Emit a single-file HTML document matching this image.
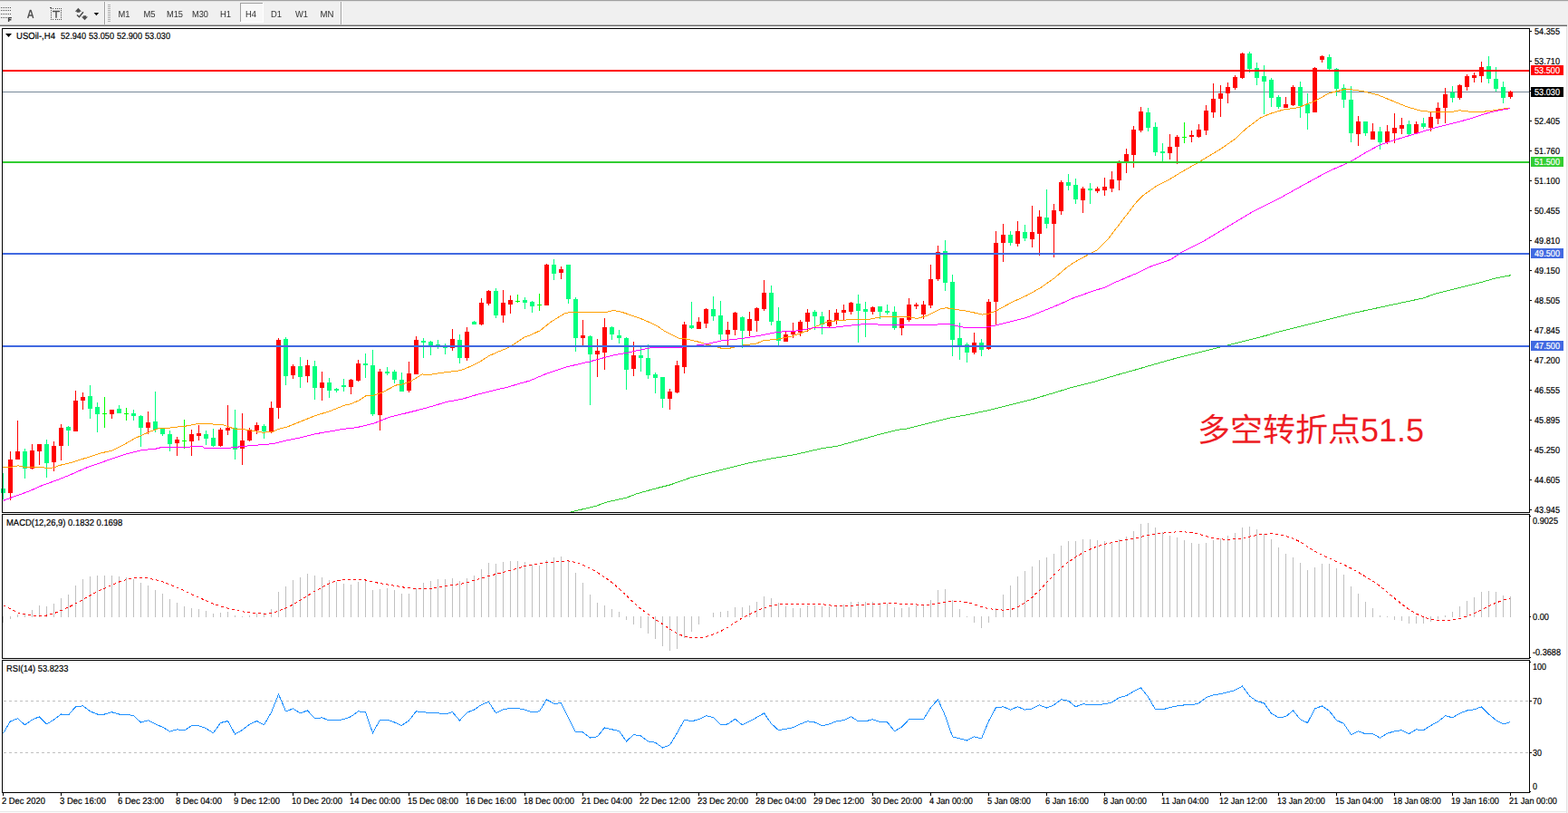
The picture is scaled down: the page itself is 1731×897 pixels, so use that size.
<!DOCTYPE html>
<html><head><meta charset="utf-8"><title>USOil H4</title>
<style>html,body{margin:0;padding:0;background:#fff}body{width:1731px;height:897px;overflow:hidden;position:relative;font-family:"Liberation Sans",sans-serif}</style></head>
<body>
<svg width="1731" height="897" viewBox="0 0 1731 897" font-family="Liberation Sans, sans-serif" style="position:absolute;left:0;top:0;text-rendering:geometricPrecision">
<rect x="0" y="0" width="1731" height="897" fill="#ffffff"/>
<g id="toolbar" shape-rendering="crispEdges">
<rect x="0" y="0" width="1731" height="29" fill="#f0f0f0"/>
<rect x="0" y="0" width="1731" height="1" fill="#a0a0a0"/>
<rect x="0" y="1" width="1731" height="1" fill="#e3e3e3"/>
<rect x="0" y="27" width="1730" height="1" fill="#b4b4b4"/>
<rect x="0" y="28" width="1730" height="1" fill="#696969"/>
<rect x="0" y="29" width="1731" height="2" fill="#ffffff"/>
</g>
<g id="frames" shape-rendering="crispEdges" fill="none" stroke="#000" stroke-width="1">
<path d="M2.5 31.5H1688.5V565.5H2.5Z"/>
<path d="M2.5 567.5H1688.5V726.5H2.5Z"/>
<path d="M2.5 728.5H1688.5V874.5H2.5Z"/>
</g>
<g shape-rendering="crispEdges">
<rect x="1729" y="29" width="1" height="868" fill="#e3e3e3"/>
<rect x="1730" y="29" width="1" height="868" fill="#f4f4f4"/>
<rect x="0" y="895" width="1729" height="1" fill="#e8e8e8"/>
<rect x="0" y="896" width="1729" height="1" fill="#fcfcfc"/>
</g>
<rect x="3" y="101" width="1685" height="1" fill="#778899" shape-rendering="crispEdges"/>
<g id="candles" shape-rendering="crispEdges">
<rect x="3" y="522" width="1" height="29" fill="#00ff7f"/>
<rect x="1" y="539" width="5" height="5" fill="#00ff7f"/>
<rect x="11" y="498" width="1" height="54" fill="#ff0000"/>
<rect x="9" y="507" width="5" height="37" fill="#ff0000"/>
<rect x="19" y="464" width="1" height="43" fill="#ff0000"/>
<rect x="17" y="498" width="5" height="9" fill="#ff0000"/>
<rect x="27" y="495" width="1" height="33" fill="#00ff7f"/>
<rect x="25" y="498" width="5" height="19" fill="#00ff7f"/>
<rect x="35" y="490" width="1" height="28" fill="#ff0000"/>
<rect x="33" y="497" width="5" height="20" fill="#ff0000"/>
<rect x="43" y="490" width="1" height="23" fill="#ff0000"/>
<rect x="41" y="490" width="5" height="8" fill="#ff0000"/>
<rect x="51" y="485" width="1" height="42" fill="#00ff7f"/>
<rect x="49" y="490" width="5" height="21" fill="#00ff7f"/>
<rect x="59" y="487" width="1" height="33" fill="#ff0000"/>
<rect x="57" y="492" width="5" height="18" fill="#ff0000"/>
<rect x="67" y="468" width="1" height="40" fill="#ff0000"/>
<rect x="65" y="472" width="5" height="20" fill="#ff0000"/>
<rect x="75" y="470" width="1" height="22" fill="#00ff7f"/>
<rect x="73" y="471" width="5" height="4" fill="#00ff7f"/>
<rect x="83" y="431" width="1" height="45" fill="#ff0000"/>
<rect x="81" y="442" width="5" height="34" fill="#ff0000"/>
<rect x="91" y="433" width="1" height="19" fill="#ff0000"/>
<rect x="89" y="438" width="5" height="4" fill="#ff0000"/>
<rect x="99" y="425" width="1" height="37" fill="#00ff7f"/>
<rect x="97" y="437" width="5" height="14" fill="#00ff7f"/>
<rect x="107" y="444" width="1" height="33" fill="#00ff7f"/>
<rect x="105" y="449" width="5" height="8" fill="#00ff7f"/>
<rect x="115" y="438" width="1" height="34" fill="#00ff00"/>
<rect x="113" y="456" width="5" height="1" fill="#00ff00"/>
<rect x="123" y="452" width="1" height="10" fill="#ff0000"/>
<rect x="121" y="452" width="5" height="5" fill="#ff0000"/>
<rect x="131" y="447" width="1" height="9" fill="#00ff7f"/>
<rect x="129" y="451" width="5" height="5" fill="#00ff7f"/>
<rect x="139" y="450" width="1" height="14" fill="#00ff00"/>
<rect x="137" y="456" width="5" height="1" fill="#00ff00"/>
<rect x="147" y="452" width="1" height="12" fill="#00ff7f"/>
<rect x="145" y="456" width="5" height="3" fill="#00ff7f"/>
<rect x="155" y="458" width="1" height="35" fill="#00ff7f"/>
<rect x="153" y="459" width="5" height="13" fill="#00ff7f"/>
<rect x="163" y="454" width="1" height="25" fill="#ff0000"/>
<rect x="161" y="466" width="5" height="6" fill="#ff0000"/>
<rect x="171" y="432" width="1" height="45" fill="#00ff7f"/>
<rect x="169" y="465" width="5" height="9" fill="#00ff7f"/>
<rect x="179" y="473" width="1" height="8" fill="#00ff7f"/>
<rect x="177" y="473" width="5" height="6" fill="#00ff7f"/>
<rect x="187" y="475" width="1" height="23" fill="#00ff7f"/>
<rect x="185" y="479" width="5" height="11" fill="#00ff7f"/>
<rect x="195" y="482" width="1" height="21" fill="#ff0000"/>
<rect x="193" y="485" width="5" height="4" fill="#ff0000"/>
<rect x="203" y="463" width="1" height="32" fill="#00ff00"/>
<rect x="201" y="486" width="5" height="1" fill="#00ff00"/>
<rect x="211" y="474" width="1" height="29" fill="#ff0000"/>
<rect x="209" y="479" width="5" height="8" fill="#ff0000"/>
<rect x="219" y="469" width="1" height="17" fill="#ff0000"/>
<rect x="217" y="478" width="5" height="3" fill="#ff0000"/>
<rect x="227" y="475" width="1" height="16" fill="#00ff7f"/>
<rect x="225" y="479" width="5" height="5" fill="#00ff7f"/>
<rect x="235" y="473" width="1" height="20" fill="#00ff7f"/>
<rect x="233" y="483" width="5" height="9" fill="#00ff7f"/>
<rect x="243" y="472" width="1" height="21" fill="#ff0000"/>
<rect x="241" y="474" width="5" height="18" fill="#ff0000"/>
<rect x="251" y="447" width="1" height="33" fill="#ff0000"/>
<rect x="249" y="472" width="5" height="3" fill="#ff0000"/>
<rect x="259" y="452" width="1" height="55" fill="#00ff7f"/>
<rect x="257" y="472" width="5" height="24" fill="#00ff7f"/>
<rect x="267" y="456" width="1" height="57" fill="#ff0000"/>
<rect x="265" y="486" width="5" height="9" fill="#ff0000"/>
<rect x="275" y="472" width="1" height="15" fill="#ff0000"/>
<rect x="273" y="474" width="5" height="12" fill="#ff0000"/>
<rect x="283" y="466" width="1" height="13" fill="#ff0000"/>
<rect x="281" y="469" width="5" height="6" fill="#ff0000"/>
<rect x="291" y="468" width="1" height="16" fill="#00ff7f"/>
<rect x="289" y="470" width="5" height="6" fill="#00ff7f"/>
<rect x="299" y="443" width="1" height="35" fill="#ff0000"/>
<rect x="297" y="450" width="5" height="26" fill="#ff0000"/>
<rect x="307" y="373" width="1" height="89" fill="#ff0000"/>
<rect x="305" y="375" width="5" height="75" fill="#ff0000"/>
<rect x="315" y="372" width="1" height="53" fill="#00ff7f"/>
<rect x="313" y="374" width="5" height="41" fill="#00ff7f"/>
<rect x="323" y="402" width="1" height="16" fill="#ff0000"/>
<rect x="321" y="404" width="5" height="10" fill="#ff0000"/>
<rect x="331" y="394" width="1" height="34" fill="#00ff7f"/>
<rect x="329" y="404" width="5" height="12" fill="#00ff7f"/>
<rect x="339" y="397" width="1" height="25" fill="#ff0000"/>
<rect x="337" y="403" width="5" height="12" fill="#ff0000"/>
<rect x="347" y="398" width="1" height="43" fill="#00ff7f"/>
<rect x="345" y="404" width="5" height="24" fill="#00ff7f"/>
<rect x="355" y="410" width="1" height="32" fill="#ff0000"/>
<rect x="353" y="422" width="5" height="6" fill="#ff0000"/>
<rect x="363" y="417" width="1" height="22" fill="#00ff7f"/>
<rect x="361" y="422" width="5" height="9" fill="#00ff7f"/>
<rect x="371" y="428" width="1" height="5" fill="#00ff7f"/>
<rect x="369" y="429" width="5" height="2" fill="#00ff7f"/>
<rect x="379" y="418" width="1" height="14" fill="#00ff7f"/>
<rect x="377" y="425" width="5" height="2" fill="#00ff7f"/>
<rect x="387" y="418" width="1" height="17" fill="#ff0000"/>
<rect x="385" y="419" width="5" height="8" fill="#ff0000"/>
<rect x="395" y="397" width="1" height="24" fill="#ff0000"/>
<rect x="393" y="401" width="5" height="19" fill="#ff0000"/>
<rect x="403" y="390" width="1" height="27" fill="#00ff7f"/>
<rect x="401" y="401" width="5" height="2" fill="#00ff7f"/>
<rect x="411" y="386" width="1" height="73" fill="#00ff7f"/>
<rect x="409" y="403" width="5" height="54" fill="#00ff7f"/>
<rect x="419" y="407" width="1" height="68" fill="#ff0000"/>
<rect x="417" y="410" width="5" height="48" fill="#ff0000"/>
<rect x="427" y="405" width="1" height="9" fill="#00ff7f"/>
<rect x="425" y="410" width="5" height="2" fill="#00ff7f"/>
<rect x="435" y="408" width="1" height="15" fill="#00ff7f"/>
<rect x="433" y="410" width="5" height="9" fill="#00ff7f"/>
<rect x="443" y="411" width="1" height="21" fill="#00ff7f"/>
<rect x="441" y="419" width="5" height="13" fill="#00ff7f"/>
<rect x="451" y="399" width="1" height="34" fill="#ff0000"/>
<rect x="449" y="412" width="5" height="19" fill="#ff0000"/>
<rect x="459" y="371" width="1" height="42" fill="#ff0000"/>
<rect x="457" y="375" width="5" height="38" fill="#ff0000"/>
<rect x="467" y="373" width="1" height="22" fill="#00ff7f"/>
<rect x="465" y="376" width="5" height="2" fill="#00ff7f"/>
<rect x="475" y="376" width="1" height="16" fill="#00ff7f"/>
<rect x="473" y="377" width="5" height="4" fill="#00ff7f"/>
<rect x="483" y="375" width="1" height="10" fill="#00ff7f"/>
<rect x="481" y="380" width="5" height="1" fill="#00ff7f"/>
<rect x="491" y="379" width="1" height="12" fill="#00ff7f"/>
<rect x="489" y="383" width="5" height="1" fill="#00ff7f"/>
<rect x="499" y="363" width="1" height="24" fill="#ff0000"/>
<rect x="497" y="374" width="5" height="10" fill="#ff0000"/>
<rect x="507" y="369" width="1" height="32" fill="#00ff7f"/>
<rect x="505" y="375" width="5" height="20" fill="#00ff7f"/>
<rect x="515" y="361" width="1" height="37" fill="#ff0000"/>
<rect x="513" y="366" width="5" height="29" fill="#ff0000"/>
<rect x="523" y="354" width="1" height="4" fill="#00ff7f"/>
<rect x="521" y="355" width="5" height="3" fill="#00ff7f"/>
<rect x="531" y="329" width="1" height="30" fill="#ff0000"/>
<rect x="529" y="334" width="5" height="24" fill="#ff0000"/>
<rect x="539" y="320" width="1" height="17" fill="#ff0000"/>
<rect x="537" y="321" width="5" height="14" fill="#ff0000"/>
<rect x="547" y="318" width="1" height="33" fill="#00ff7f"/>
<rect x="545" y="321" width="5" height="27" fill="#00ff7f"/>
<rect x="555" y="320" width="1" height="36" fill="#ff0000"/>
<rect x="553" y="334" width="5" height="14" fill="#ff0000"/>
<rect x="563" y="326" width="1" height="20" fill="#ff0000"/>
<rect x="561" y="331" width="5" height="5" fill="#ff0000"/>
<rect x="571" y="325" width="1" height="9" fill="#00ff00"/>
<rect x="569" y="332" width="5" height="1" fill="#00ff00"/>
<rect x="579" y="328" width="1" height="13" fill="#00ff7f"/>
<rect x="577" y="331" width="5" height="3" fill="#00ff7f"/>
<rect x="587" y="332" width="1" height="13" fill="#00ff7f"/>
<rect x="585" y="333" width="5" height="5" fill="#00ff7f"/>
<rect x="595" y="324" width="1" height="19" fill="#00ff00"/>
<rect x="593" y="336" width="5" height="1" fill="#00ff00"/>
<rect x="603" y="291" width="1" height="46" fill="#ff0000"/>
<rect x="601" y="292" width="5" height="45" fill="#ff0000"/>
<rect x="611" y="286" width="1" height="23" fill="#00ff7f"/>
<rect x="609" y="292" width="5" height="10" fill="#00ff7f"/>
<rect x="619" y="294" width="1" height="14" fill="#ff0000"/>
<rect x="617" y="297" width="5" height="4" fill="#ff0000"/>
<rect x="627" y="292" width="1" height="43" fill="#00ff7f"/>
<rect x="625" y="292" width="5" height="38" fill="#00ff7f"/>
<rect x="635" y="328" width="1" height="60" fill="#00ff7f"/>
<rect x="633" y="330" width="5" height="43" fill="#00ff7f"/>
<rect x="643" y="353" width="1" height="28" fill="#ff0000"/>
<rect x="641" y="370" width="5" height="3" fill="#ff0000"/>
<rect x="651" y="370" width="1" height="77" fill="#00ff7f"/>
<rect x="649" y="371" width="5" height="20" fill="#00ff7f"/>
<rect x="659" y="374" width="1" height="42" fill="#ff0000"/>
<rect x="657" y="387" width="5" height="4" fill="#ff0000"/>
<rect x="667" y="351" width="1" height="57" fill="#ff0000"/>
<rect x="665" y="361" width="5" height="28" fill="#ff0000"/>
<rect x="675" y="360" width="1" height="15" fill="#00ff7f"/>
<rect x="673" y="361" width="5" height="8" fill="#00ff7f"/>
<rect x="683" y="364" width="1" height="15" fill="#00ff7f"/>
<rect x="681" y="370" width="5" height="3" fill="#00ff7f"/>
<rect x="691" y="372" width="1" height="58" fill="#00ff7f"/>
<rect x="689" y="373" width="5" height="35" fill="#00ff7f"/>
<rect x="699" y="377" width="1" height="38" fill="#ff0000"/>
<rect x="697" y="392" width="5" height="15" fill="#ff0000"/>
<rect x="707" y="383" width="1" height="27" fill="#00ff7f"/>
<rect x="705" y="392" width="5" height="3" fill="#00ff7f"/>
<rect x="715" y="380" width="1" height="38" fill="#00ff7f"/>
<rect x="713" y="395" width="5" height="19" fill="#00ff7f"/>
<rect x="723" y="411" width="1" height="23" fill="#00ff7f"/>
<rect x="721" y="413" width="5" height="4" fill="#00ff7f"/>
<rect x="731" y="416" width="1" height="34" fill="#00ff7f"/>
<rect x="729" y="416" width="5" height="24" fill="#00ff7f"/>
<rect x="739" y="429" width="1" height="23" fill="#ff0000"/>
<rect x="737" y="432" width="5" height="8" fill="#ff0000"/>
<rect x="747" y="398" width="1" height="36" fill="#ff0000"/>
<rect x="745" y="403" width="5" height="30" fill="#ff0000"/>
<rect x="755" y="355" width="1" height="57" fill="#ff0000"/>
<rect x="753" y="358" width="5" height="47" fill="#ff0000"/>
<rect x="763" y="333" width="1" height="30" fill="#00ff7f"/>
<rect x="761" y="359" width="5" height="3" fill="#00ff7f"/>
<rect x="771" y="350" width="1" height="13" fill="#ff0000"/>
<rect x="769" y="355" width="5" height="8" fill="#ff0000"/>
<rect x="779" y="340" width="1" height="22" fill="#ff0000"/>
<rect x="777" y="341" width="5" height="16" fill="#ff0000"/>
<rect x="787" y="327" width="1" height="27" fill="#00ff7f"/>
<rect x="785" y="341" width="5" height="8" fill="#00ff7f"/>
<rect x="795" y="332" width="1" height="43" fill="#00ff7f"/>
<rect x="793" y="348" width="5" height="21" fill="#00ff7f"/>
<rect x="803" y="355" width="1" height="26" fill="#ff0000"/>
<rect x="801" y="364" width="5" height="5" fill="#ff0000"/>
<rect x="811" y="344" width="1" height="26" fill="#ff0000"/>
<rect x="809" y="345" width="5" height="19" fill="#ff0000"/>
<rect x="819" y="349" width="1" height="35" fill="#00ff7f"/>
<rect x="817" y="350" width="5" height="15" fill="#00ff7f"/>
<rect x="827" y="344" width="1" height="27" fill="#ff0000"/>
<rect x="825" y="352" width="5" height="13" fill="#ff0000"/>
<rect x="835" y="339" width="1" height="27" fill="#ff0000"/>
<rect x="833" y="340" width="5" height="14" fill="#ff0000"/>
<rect x="843" y="309" width="1" height="34" fill="#ff0000"/>
<rect x="841" y="323" width="5" height="18" fill="#ff0000"/>
<rect x="851" y="315" width="1" height="44" fill="#00ff7f"/>
<rect x="849" y="323" width="5" height="32" fill="#00ff7f"/>
<rect x="859" y="339" width="1" height="42" fill="#00ff7f"/>
<rect x="857" y="354" width="5" height="22" fill="#00ff7f"/>
<rect x="867" y="366" width="1" height="11" fill="#ff0000"/>
<rect x="865" y="369" width="5" height="8" fill="#ff0000"/>
<rect x="875" y="356" width="1" height="17" fill="#ff0000"/>
<rect x="873" y="366" width="5" height="3" fill="#ff0000"/>
<rect x="883" y="353" width="1" height="18" fill="#ff0000"/>
<rect x="881" y="355" width="5" height="12" fill="#ff0000"/>
<rect x="891" y="341" width="1" height="25" fill="#ff0000"/>
<rect x="889" y="345" width="5" height="10" fill="#ff0000"/>
<rect x="899" y="342" width="1" height="22" fill="#00ff7f"/>
<rect x="897" y="344" width="5" height="5" fill="#00ff7f"/>
<rect x="907" y="344" width="1" height="25" fill="#00ff7f"/>
<rect x="905" y="349" width="5" height="9" fill="#00ff7f"/>
<rect x="915" y="342" width="1" height="19" fill="#ff0000"/>
<rect x="913" y="353" width="5" height="7" fill="#ff0000"/>
<rect x="923" y="341" width="1" height="17" fill="#ff0000"/>
<rect x="921" y="345" width="5" height="9" fill="#ff0000"/>
<rect x="931" y="336" width="1" height="17" fill="#ff0000"/>
<rect x="929" y="342" width="5" height="3" fill="#ff0000"/>
<rect x="939" y="333" width="1" height="14" fill="#ff0000"/>
<rect x="937" y="334" width="5" height="10" fill="#ff0000"/>
<rect x="947" y="325" width="1" height="53" fill="#00ff7f"/>
<rect x="945" y="335" width="5" height="8" fill="#00ff7f"/>
<rect x="955" y="333" width="1" height="39" fill="#00ff7f"/>
<rect x="953" y="341" width="5" height="3" fill="#00ff7f"/>
<rect x="963" y="338" width="1" height="9" fill="#ff0000"/>
<rect x="961" y="339" width="5" height="5" fill="#ff0000"/>
<rect x="971" y="338" width="1" height="14" fill="#00ff7f"/>
<rect x="969" y="338" width="5" height="6" fill="#00ff7f"/>
<rect x="979" y="336" width="1" height="11" fill="#00ff7f"/>
<rect x="977" y="343" width="5" height="2" fill="#00ff7f"/>
<rect x="987" y="338" width="1" height="26" fill="#00ff7f"/>
<rect x="985" y="344" width="5" height="18" fill="#00ff7f"/>
<rect x="995" y="351" width="1" height="19" fill="#ff0000"/>
<rect x="993" y="351" width="5" height="11" fill="#ff0000"/>
<rect x="1003" y="329" width="1" height="26" fill="#ff0000"/>
<rect x="1001" y="336" width="5" height="17" fill="#ff0000"/>
<rect x="1011" y="334" width="1" height="7" fill="#ff0000"/>
<rect x="1009" y="336" width="5" height="2" fill="#ff0000"/>
<rect x="1019" y="332" width="1" height="20" fill="#ff0000"/>
<rect x="1017" y="336" width="5" height="11" fill="#ff0000"/>
<rect x="1027" y="292" width="1" height="48" fill="#ff0000"/>
<rect x="1025" y="308" width="5" height="29" fill="#ff0000"/>
<rect x="1035" y="271" width="1" height="39" fill="#ff0000"/>
<rect x="1033" y="278" width="5" height="30" fill="#ff0000"/>
<rect x="1043" y="265" width="1" height="56" fill="#00ff7f"/>
<rect x="1041" y="277" width="5" height="35" fill="#00ff7f"/>
<rect x="1051" y="303" width="1" height="90" fill="#00ff7f"/>
<rect x="1049" y="311" width="5" height="64" fill="#00ff7f"/>
<rect x="1059" y="356" width="1" height="41" fill="#00ff7f"/>
<rect x="1057" y="373" width="5" height="9" fill="#00ff7f"/>
<rect x="1067" y="378" width="1" height="22" fill="#00ff7f"/>
<rect x="1065" y="380" width="5" height="9" fill="#00ff7f"/>
<rect x="1075" y="367" width="1" height="24" fill="#ff0000"/>
<rect x="1073" y="378" width="5" height="11" fill="#ff0000"/>
<rect x="1083" y="374" width="1" height="19" fill="#00ff7f"/>
<rect x="1081" y="378" width="5" height="8" fill="#00ff7f"/>
<rect x="1091" y="330" width="1" height="56" fill="#ff0000"/>
<rect x="1089" y="333" width="5" height="52" fill="#ff0000"/>
<rect x="1099" y="255" width="1" height="103" fill="#ff0000"/>
<rect x="1097" y="268" width="5" height="65" fill="#ff0000"/>
<rect x="1107" y="247" width="1" height="42" fill="#ff0000"/>
<rect x="1105" y="259" width="5" height="9" fill="#ff0000"/>
<rect x="1115" y="255" width="1" height="16" fill="#00ff7f"/>
<rect x="1113" y="259" width="5" height="9" fill="#00ff7f"/>
<rect x="1123" y="244" width="1" height="28" fill="#ff0000"/>
<rect x="1121" y="255" width="5" height="14" fill="#ff0000"/>
<rect x="1131" y="248" width="1" height="18" fill="#00ff7f"/>
<rect x="1129" y="256" width="5" height="7" fill="#00ff7f"/>
<rect x="1139" y="227" width="1" height="46" fill="#ff0000"/>
<rect x="1137" y="256" width="5" height="8" fill="#ff0000"/>
<rect x="1147" y="232" width="1" height="50" fill="#ff0000"/>
<rect x="1145" y="239" width="5" height="19" fill="#ff0000"/>
<rect x="1155" y="209" width="1" height="43" fill="#00ff7f"/>
<rect x="1153" y="240" width="5" height="7" fill="#00ff7f"/>
<rect x="1163" y="225" width="1" height="59" fill="#ff0000"/>
<rect x="1161" y="232" width="5" height="15" fill="#ff0000"/>
<rect x="1171" y="199" width="1" height="38" fill="#ff0000"/>
<rect x="1169" y="201" width="5" height="32" fill="#ff0000"/>
<rect x="1179" y="192" width="1" height="18" fill="#00ff7f"/>
<rect x="1177" y="201" width="5" height="4" fill="#00ff7f"/>
<rect x="1187" y="197" width="1" height="28" fill="#00ff7f"/>
<rect x="1185" y="204" width="5" height="16" fill="#00ff7f"/>
<rect x="1195" y="206" width="1" height="29" fill="#ff0000"/>
<rect x="1193" y="208" width="5" height="13" fill="#ff0000"/>
<rect x="1203" y="202" width="1" height="23" fill="#00ff7f"/>
<rect x="1201" y="208" width="5" height="2" fill="#00ff7f"/>
<rect x="1211" y="206" width="1" height="7" fill="#ff0000"/>
<rect x="1209" y="208" width="5" height="3" fill="#ff0000"/>
<rect x="1219" y="196" width="1" height="20" fill="#ff0000"/>
<rect x="1217" y="206" width="5" height="4" fill="#ff0000"/>
<rect x="1227" y="189" width="1" height="23" fill="#ff0000"/>
<rect x="1225" y="198" width="5" height="10" fill="#ff0000"/>
<rect x="1235" y="177" width="1" height="33" fill="#ff0000"/>
<rect x="1233" y="179" width="5" height="20" fill="#ff0000"/>
<rect x="1243" y="164" width="1" height="27" fill="#ff0000"/>
<rect x="1241" y="170" width="5" height="9" fill="#ff0000"/>
<rect x="1251" y="139" width="1" height="46" fill="#ff0000"/>
<rect x="1249" y="143" width="5" height="28" fill="#ff0000"/>
<rect x="1259" y="118" width="1" height="28" fill="#ff0000"/>
<rect x="1257" y="123" width="5" height="21" fill="#ff0000"/>
<rect x="1267" y="119" width="1" height="26" fill="#00ff7f"/>
<rect x="1265" y="124" width="5" height="17" fill="#00ff7f"/>
<rect x="1275" y="135" width="1" height="37" fill="#00ff7f"/>
<rect x="1273" y="140" width="5" height="28" fill="#00ff7f"/>
<rect x="1283" y="158" width="1" height="20" fill="#00ff7f"/>
<rect x="1281" y="167" width="5" height="2" fill="#00ff7f"/>
<rect x="1291" y="148" width="1" height="28" fill="#ff0000"/>
<rect x="1289" y="162" width="5" height="7" fill="#ff0000"/>
<rect x="1299" y="149" width="1" height="32" fill="#ff0000"/>
<rect x="1297" y="151" width="5" height="11" fill="#ff0000"/>
<rect x="1307" y="135" width="1" height="23" fill="#00ff00"/>
<rect x="1305" y="151" width="5" height="1" fill="#00ff00"/>
<rect x="1315" y="144" width="1" height="13" fill="#ff0000"/>
<rect x="1313" y="149" width="5" height="2" fill="#ff0000"/>
<rect x="1323" y="137" width="1" height="15" fill="#ff0000"/>
<rect x="1321" y="143" width="5" height="8" fill="#ff0000"/>
<rect x="1331" y="116" width="1" height="33" fill="#ff0000"/>
<rect x="1329" y="122" width="5" height="22" fill="#ff0000"/>
<rect x="1339" y="92" width="1" height="38" fill="#ff0000"/>
<rect x="1337" y="109" width="5" height="15" fill="#ff0000"/>
<rect x="1347" y="94" width="1" height="35" fill="#ff0000"/>
<rect x="1345" y="103" width="5" height="6" fill="#ff0000"/>
<rect x="1355" y="91" width="1" height="23" fill="#ff0000"/>
<rect x="1353" y="96" width="5" height="7" fill="#ff0000"/>
<rect x="1363" y="83" width="1" height="16" fill="#ff0000"/>
<rect x="1361" y="85" width="5" height="12" fill="#ff0000"/>
<rect x="1371" y="58" width="1" height="29" fill="#ff0000"/>
<rect x="1369" y="59" width="5" height="27" fill="#ff0000"/>
<rect x="1379" y="57" width="1" height="23" fill="#00ff7f"/>
<rect x="1377" y="59" width="5" height="17" fill="#00ff7f"/>
<rect x="1387" y="69" width="1" height="25" fill="#00ff7f"/>
<rect x="1385" y="75" width="5" height="11" fill="#00ff7f"/>
<rect x="1395" y="72" width="1" height="54" fill="#00ff7f"/>
<rect x="1393" y="84" width="5" height="6" fill="#00ff7f"/>
<rect x="1403" y="86" width="1" height="32" fill="#00ff7f"/>
<rect x="1401" y="88" width="5" height="20" fill="#00ff7f"/>
<rect x="1411" y="105" width="1" height="15" fill="#00ff7f"/>
<rect x="1409" y="107" width="5" height="11" fill="#00ff7f"/>
<rect x="1419" y="107" width="1" height="12" fill="#ff0000"/>
<rect x="1417" y="115" width="5" height="4" fill="#ff0000"/>
<rect x="1427" y="94" width="1" height="23" fill="#ff0000"/>
<rect x="1425" y="96" width="5" height="20" fill="#ff0000"/>
<rect x="1435" y="90" width="1" height="40" fill="#00ff7f"/>
<rect x="1433" y="96" width="5" height="21" fill="#00ff7f"/>
<rect x="1443" y="103" width="1" height="40" fill="#00ff7f"/>
<rect x="1441" y="115" width="5" height="10" fill="#00ff7f"/>
<rect x="1451" y="74" width="1" height="50" fill="#ff0000"/>
<rect x="1449" y="75" width="5" height="49" fill="#ff0000"/>
<rect x="1459" y="61" width="1" height="8" fill="#ff0000"/>
<rect x="1457" y="62" width="5" height="4" fill="#ff0000"/>
<rect x="1467" y="60" width="1" height="17" fill="#00ff7f"/>
<rect x="1465" y="63" width="5" height="13" fill="#00ff7f"/>
<rect x="1475" y="75" width="1" height="31" fill="#00ff7f"/>
<rect x="1473" y="76" width="5" height="22" fill="#00ff7f"/>
<rect x="1483" y="93" width="1" height="26" fill="#00ff7f"/>
<rect x="1481" y="97" width="5" height="13" fill="#00ff7f"/>
<rect x="1491" y="95" width="1" height="62" fill="#00ff7f"/>
<rect x="1489" y="110" width="5" height="37" fill="#00ff7f"/>
<rect x="1499" y="128" width="1" height="33" fill="#ff0000"/>
<rect x="1497" y="134" width="5" height="14" fill="#ff0000"/>
<rect x="1507" y="134" width="1" height="16" fill="#00ff7f"/>
<rect x="1505" y="134" width="5" height="13" fill="#00ff7f"/>
<rect x="1515" y="136" width="1" height="18" fill="#ff0000"/>
<rect x="1513" y="145" width="5" height="9" fill="#ff0000"/>
<rect x="1523" y="140" width="1" height="25" fill="#00ff7f"/>
<rect x="1521" y="145" width="5" height="12" fill="#00ff7f"/>
<rect x="1531" y="138" width="1" height="21" fill="#ff0000"/>
<rect x="1529" y="145" width="5" height="12" fill="#ff0000"/>
<rect x="1539" y="125" width="1" height="33" fill="#ff0000"/>
<rect x="1537" y="141" width="5" height="6" fill="#ff0000"/>
<rect x="1547" y="130" width="1" height="18" fill="#ff0000"/>
<rect x="1545" y="138" width="5" height="4" fill="#ff0000"/>
<rect x="1555" y="133" width="1" height="16" fill="#00ff7f"/>
<rect x="1553" y="137" width="5" height="11" fill="#00ff7f"/>
<rect x="1563" y="134" width="1" height="14" fill="#ff0000"/>
<rect x="1561" y="137" width="5" height="10" fill="#ff0000"/>
<rect x="1571" y="130" width="1" height="12" fill="#00ff7f"/>
<rect x="1569" y="136" width="5" height="4" fill="#00ff7f"/>
<rect x="1579" y="123" width="1" height="22" fill="#ff0000"/>
<rect x="1577" y="129" width="5" height="12" fill="#ff0000"/>
<rect x="1587" y="113" width="1" height="24" fill="#ff0000"/>
<rect x="1585" y="119" width="5" height="12" fill="#ff0000"/>
<rect x="1595" y="97" width="1" height="39" fill="#ff0000"/>
<rect x="1593" y="104" width="5" height="15" fill="#ff0000"/>
<rect x="1603" y="95" width="1" height="18" fill="#00ff7f"/>
<rect x="1601" y="102" width="5" height="6" fill="#00ff7f"/>
<rect x="1611" y="93" width="1" height="17" fill="#ff0000"/>
<rect x="1609" y="94" width="5" height="14" fill="#ff0000"/>
<rect x="1619" y="82" width="1" height="18" fill="#ff0000"/>
<rect x="1617" y="84" width="5" height="12" fill="#ff0000"/>
<rect x="1627" y="80" width="1" height="11" fill="#ff0000"/>
<rect x="1625" y="83" width="5" height="3" fill="#ff0000"/>
<rect x="1635" y="68" width="1" height="23" fill="#ff0000"/>
<rect x="1633" y="74" width="5" height="10" fill="#ff0000"/>
<rect x="1643" y="62" width="1" height="30" fill="#00ff7f"/>
<rect x="1641" y="73" width="5" height="14" fill="#00ff7f"/>
<rect x="1651" y="74" width="1" height="27" fill="#00ff7f"/>
<rect x="1649" y="87" width="5" height="11" fill="#00ff7f"/>
<rect x="1659" y="90" width="1" height="24" fill="#00ff7f"/>
<rect x="1657" y="96" width="5" height="12" fill="#00ff7f"/>
<rect x="1667" y="100" width="1" height="9" fill="#ff0000"/>
<rect x="1665" y="101" width="5" height="6" fill="#ff0000"/>
</g>
<g id="mas" clip-path="url(#cpmain)">
<clipPath id="cpmain"><rect x="3" y="32" width="1685" height="533"/></clipPath>
<polyline points="627.5,565.5 630.1,564.9 656.7,558.7 670.6,553.8 691.4,549.2 702.9,544.8 726.0,538.4 739.9,534.9 763.0,526.8 786.1,521.0 809.2,515.2 827.7,510.6 850.8,506.0 878.5,501.4 906.3,494.9 924.8,492.1 945.6,486.4 968.7,479.9 991.8,474.1 1000.5,473.1 1023.6,467.3 1046.7,461.5 1069.8,457.3 1092.9,452.3 1116.0,446.5 1139.2,440.7 1162.3,433.8 1185.4,426.8 1208.5,421.1 1231.6,414.1 1254.7,407.7 1277.8,401.0 1300.9,394.5 1324.0,388.7 1347.1,382.9 1370.2,377.2 1400.5,369.5 1409.9,366.5 1437.7,359.5 1465.6,352.6 1493.5,345.6 1513.0,341.4 1549.2,333.6 1571.5,328.9 1582.7,324.7 1604.9,319.1 1632.8,312.1 1652.3,306.6 1667.7,303.8" fill="none" stroke="#32cd32" stroke-width="1" shape-rendering="crispEdges"/>
<polyline points="3.5,515.7 16.1,514.9 20.0,513.7 27.8,515.7 47.3,515.7 53.5,517.0 59.8,515.7 66.0,513.4 81.7,509.5 94.1,505.5 109.8,500.4 123.8,497.0 133.2,492.6 148.8,483.7 164.4,476.7 176.9,472.0 187.8,472.0 200.3,470.4 205.0,470.1 217.5,467.7 231.5,467.7 247.1,469.0 258.1,472.9 270.5,474.0 289.3,477.1 300.2,476.8 308.0,473.2 317.4,470.9 333.0,464.6 348.5,458.4 364.2,453.7 379.8,447.4 388.5,445.3 396.5,441.6 403.9,436.8 412.8,436.0 420.9,433.5 437.0,425.1 445.1,423.8 453.2,421.0 466.1,412.9 472.5,413.7 490.0,411.0 508.7,408.7 521.2,403.5 529.0,399.6 539.9,392.6 552.4,387.1 560.2,384.0 569.5,378.5 578.9,372.0 584.5,370.2 596.2,364.8 607.9,355.4 623.5,345.7 629.8,344.5 668.8,344.5 675.0,342.9 679.7,342.9 686.0,344.2 693.8,346.8 709.4,352.3 725.0,359.3 732.8,364.8 748.4,372.9 756.2,373.7 771.8,377.3 780.5,380.4 786.5,381.2 795.5,384.0 806.5,384.0 818.0,381.2 835.1,379.1 842.9,375.7 858.5,374.1 874.1,371.0 889.8,365.5 899.1,360.9 914.7,354.6 936.5,352.8 956.9,352.8 970.9,350.0 980.5,349.6 1004.5,349.9 1012.5,351.5 1023.3,348.3 1038.9,340.5 1045.2,339.8 1054.5,341.3 1070.1,343.7 1084.2,347.1 1092.0,346.0 1101.4,342.1 1117.0,333.5 1132.5,326.5 1148.2,317.9 1163.8,307.0 1176.5,296.1 1184.2,290.4 1199.8,281.8 1210.7,276.3 1223.2,263.8 1238.8,243.5 1254.4,223.2 1262.2,215.4 1277.8,204.5 1290.5,198.3 1303.1,190.5 1324.1,178.5 1347.5,164.4 1363.2,153.5 1375.7,141.8 1391.3,130.1 1402.2,125.4 1417.8,120.7 1430.5,119.2 1436.1,117.6 1451.7,111.4 1467.3,102.8 1482.9,98.9 1492.3,98.9 1504.8,100.8 1522.0,105.1 1537.5,111.4 1553.2,117.9 1568.8,122.3 1576.5,123.1 1600.0,123.9 1610.9,121.8 1620.5,122.9 1624.5,123.8 1639.2,123.8 1640.0,122.6 1647.0,122.2 1655.5,120.7 1667.3,118.9" fill="none" stroke="#ffa000" stroke-width="1" shape-rendering="crispEdges"/>
<polyline points="3.5,552.4 16.1,547.7 31.7,542.2 47.3,535.2 62.9,529.8 78.5,523.5 94.1,516.5 109.8,511.0 125.4,505.5 141.0,500.4 156.5,496.7 172.2,495.1 176.9,493.9 200.3,493.9 206.5,493.8 211.2,492.7 223.7,492.7 225.3,494.0 254.9,494.0 270.5,492.2 301.8,489.6 317.4,485.7 333.0,482.6 348.5,478.7 364.2,476.0 379.8,473.2 388.5,472.4 396.5,471.0 412.8,467.1 428.9,460.6 453.2,454.6 469.4,450.5 493.6,443.3 509.8,440.4 529.0,434.7 544.5,430.8 560.2,427.2 575.8,422.5 584.5,420.2 604.8,411.6 626.6,404.6 651.6,398.8 678.1,391.6 693.8,389.0 709.4,385.4 720.3,383.5 750.5,383.5 767.1,381.2 780.5,379.6 796.1,376.0 819.5,373.4 842.9,369.5 858.5,366.3 882.0,364.8 897.5,361.7 917.8,361.7 936.5,359.3 952.2,357.8 984.3,358.2 1031.1,358.2 1046.7,357.4 1065.5,361.6 1085.8,361.6 1101.4,358.5 1117.0,354.5 1132.5,350.7 1148.2,344.4 1163.8,338.2 1176.5,332.7 1185.4,328.6 1208.5,320.5 1220.0,317.1 1231.6,311.3 1254.7,301.6 1270.5,294.0 1292.8,286.2 1303.9,278.7 1326.2,267.6 1354.1,250.8 1382.0,234.1 1409.9,220.2 1437.7,204.8 1465.6,189.5 1490.7,178.5 1506.3,169.1 1522.0,160.5 1537.5,155.1 1553.2,150.4 1568.8,145.7 1584.4,141.0 1600.0,137.1 1620.5,131.7 1641.5,125.0 1647.8,123.4 1655.5,121.5 1667.3,119.7" fill="none" stroke="#ff00ff" stroke-width="1" shape-rendering="crispEdges"/>
</g>
<g id="hlines" shape-rendering="crispEdges">
<rect x="3" y="77" width="1685" height="2" fill="#ff0000"/>
<rect x="3" y="178" width="1685" height="2" fill="#32cd32"/>
<rect x="3" y="279" width="1685" height="2" fill="#4169e1"/>
<rect x="3" y="381" width="1685" height="2" fill="#4169e1"/>
</g>
<rect x="2" y="31" width="1" height="535" fill="#000" shape-rendering="crispEdges"/>
<g id="macd" shape-rendering="crispEdges">
<rect x="3" y="680" width="1" height="7" fill="#c0c0c0"/>
<rect x="11" y="680" width="1" height="3" fill="#c0c0c0"/>
<rect x="19" y="678" width="1" height="3" fill="#c0c0c0"/>
<rect x="27" y="677" width="1" height="4" fill="#c0c0c0"/>
<rect x="35" y="673" width="1" height="8" fill="#c0c0c0"/>
<rect x="43" y="668" width="1" height="13" fill="#c0c0c0"/>
<rect x="51" y="669" width="1" height="12" fill="#c0c0c0"/>
<rect x="59" y="666" width="1" height="15" fill="#c0c0c0"/>
<rect x="67" y="660" width="1" height="21" fill="#c0c0c0"/>
<rect x="75" y="656" width="1" height="25" fill="#c0c0c0"/>
<rect x="83" y="646" width="1" height="35" fill="#c0c0c0"/>
<rect x="91" y="639" width="1" height="42" fill="#c0c0c0"/>
<rect x="99" y="636" width="1" height="45" fill="#c0c0c0"/>
<rect x="107" y="635" width="1" height="46" fill="#c0c0c0"/>
<rect x="115" y="635" width="1" height="46" fill="#c0c0c0"/>
<rect x="123" y="635" width="1" height="46" fill="#c0c0c0"/>
<rect x="131" y="636" width="1" height="45" fill="#c0c0c0"/>
<rect x="139" y="637" width="1" height="44" fill="#c0c0c0"/>
<rect x="147" y="639" width="1" height="42" fill="#c0c0c0"/>
<rect x="155" y="643" width="1" height="38" fill="#c0c0c0"/>
<rect x="163" y="646" width="1" height="35" fill="#c0c0c0"/>
<rect x="171" y="651" width="1" height="30" fill="#c0c0c0"/>
<rect x="179" y="655" width="1" height="26" fill="#c0c0c0"/>
<rect x="187" y="661" width="1" height="20" fill="#c0c0c0"/>
<rect x="195" y="665" width="1" height="16" fill="#c0c0c0"/>
<rect x="203" y="669" width="1" height="12" fill="#c0c0c0"/>
<rect x="211" y="671" width="1" height="10" fill="#c0c0c0"/>
<rect x="219" y="672" width="1" height="9" fill="#c0c0c0"/>
<rect x="227" y="674" width="1" height="7" fill="#c0c0c0"/>
<rect x="235" y="677" width="1" height="4" fill="#c0c0c0"/>
<rect x="243" y="676" width="1" height="5" fill="#c0c0c0"/>
<rect x="251" y="675" width="1" height="6" fill="#c0c0c0"/>
<rect x="259" y="679" width="1" height="2" fill="#c0c0c0"/>
<rect x="267" y="680" width="1" height="1" fill="#c0c0c0"/>
<rect x="275" y="679" width="1" height="2" fill="#c0c0c0"/>
<rect x="283" y="677" width="1" height="4" fill="#c0c0c0"/>
<rect x="291" y="676" width="1" height="5" fill="#c0c0c0"/>
<rect x="299" y="672" width="1" height="9" fill="#c0c0c0"/>
<rect x="307" y="653" width="1" height="28" fill="#c0c0c0"/>
<rect x="315" y="647" width="1" height="34" fill="#c0c0c0"/>
<rect x="323" y="640" width="1" height="41" fill="#c0c0c0"/>
<rect x="331" y="637" width="1" height="44" fill="#c0c0c0"/>
<rect x="339" y="633" width="1" height="48" fill="#c0c0c0"/>
<rect x="347" y="635" width="1" height="46" fill="#c0c0c0"/>
<rect x="355" y="637" width="1" height="44" fill="#c0c0c0"/>
<rect x="363" y="640" width="1" height="41" fill="#c0c0c0"/>
<rect x="371" y="642" width="1" height="39" fill="#c0c0c0"/>
<rect x="379" y="644" width="1" height="37" fill="#c0c0c0"/>
<rect x="387" y="645" width="1" height="36" fill="#c0c0c0"/>
<rect x="395" y="642" width="1" height="39" fill="#c0c0c0"/>
<rect x="403" y="641" width="1" height="40" fill="#c0c0c0"/>
<rect x="411" y="651" width="1" height="30" fill="#c0c0c0"/>
<rect x="419" y="650" width="1" height="31" fill="#c0c0c0"/>
<rect x="427" y="649" width="1" height="32" fill="#c0c0c0"/>
<rect x="435" y="651" width="1" height="30" fill="#c0c0c0"/>
<rect x="443" y="655" width="1" height="26" fill="#c0c0c0"/>
<rect x="451" y="655" width="1" height="26" fill="#c0c0c0"/>
<rect x="459" y="649" width="1" height="32" fill="#c0c0c0"/>
<rect x="467" y="643" width="1" height="38" fill="#c0c0c0"/>
<rect x="475" y="641" width="1" height="40" fill="#c0c0c0"/>
<rect x="483" y="639" width="1" height="42" fill="#c0c0c0"/>
<rect x="491" y="639" width="1" height="42" fill="#c0c0c0"/>
<rect x="499" y="638" width="1" height="43" fill="#c0c0c0"/>
<rect x="507" y="641" width="1" height="40" fill="#c0c0c0"/>
<rect x="515" y="638" width="1" height="43" fill="#c0c0c0"/>
<rect x="523" y="635" width="1" height="46" fill="#c0c0c0"/>
<rect x="531" y="628" width="1" height="53" fill="#c0c0c0"/>
<rect x="539" y="621" width="1" height="60" fill="#c0c0c0"/>
<rect x="547" y="622" width="1" height="59" fill="#c0c0c0"/>
<rect x="555" y="620" width="1" height="61" fill="#c0c0c0"/>
<rect x="563" y="619" width="1" height="62" fill="#c0c0c0"/>
<rect x="571" y="619" width="1" height="62" fill="#c0c0c0"/>
<rect x="579" y="620" width="1" height="61" fill="#c0c0c0"/>
<rect x="587" y="623" width="1" height="58" fill="#c0c0c0"/>
<rect x="595" y="624" width="1" height="57" fill="#c0c0c0"/>
<rect x="603" y="618" width="1" height="63" fill="#c0c0c0"/>
<rect x="611" y="615" width="1" height="66" fill="#c0c0c0"/>
<rect x="619" y="614" width="1" height="67" fill="#c0c0c0"/>
<rect x="627" y="618" width="1" height="63" fill="#c0c0c0"/>
<rect x="635" y="632" width="1" height="49" fill="#c0c0c0"/>
<rect x="643" y="643" width="1" height="38" fill="#c0c0c0"/>
<rect x="651" y="656" width="1" height="25" fill="#c0c0c0"/>
<rect x="659" y="665" width="1" height="16" fill="#c0c0c0"/>
<rect x="667" y="668" width="1" height="13" fill="#c0c0c0"/>
<rect x="675" y="672" width="1" height="9" fill="#c0c0c0"/>
<rect x="683" y="675" width="1" height="6" fill="#c0c0c0"/>
<rect x="691" y="680" width="1" height="4" fill="#c0c0c0"/>
<rect x="699" y="680" width="1" height="9" fill="#c0c0c0"/>
<rect x="707" y="680" width="1" height="13" fill="#c0c0c0"/>
<rect x="715" y="680" width="1" height="19" fill="#c0c0c0"/>
<rect x="723" y="680" width="1" height="25" fill="#c0c0c0"/>
<rect x="731" y="680" width="1" height="33" fill="#c0c0c0"/>
<rect x="739" y="680" width="1" height="38" fill="#c0c0c0"/>
<rect x="747" y="680" width="1" height="36" fill="#c0c0c0"/>
<rect x="755" y="680" width="1" height="24" fill="#c0c0c0"/>
<rect x="763" y="680" width="1" height="17" fill="#c0c0c0"/>
<rect x="771" y="680" width="1" height="9" fill="#c0c0c0"/>
<rect x="787" y="676" width="1" height="5" fill="#c0c0c0"/>
<rect x="795" y="675" width="1" height="6" fill="#c0c0c0"/>
<rect x="803" y="674" width="1" height="7" fill="#c0c0c0"/>
<rect x="811" y="670" width="1" height="11" fill="#c0c0c0"/>
<rect x="819" y="670" width="1" height="11" fill="#c0c0c0"/>
<rect x="827" y="668" width="1" height="13" fill="#c0c0c0"/>
<rect x="835" y="664" width="1" height="17" fill="#c0c0c0"/>
<rect x="843" y="658" width="1" height="23" fill="#c0c0c0"/>
<rect x="851" y="660" width="1" height="21" fill="#c0c0c0"/>
<rect x="859" y="665" width="1" height="16" fill="#c0c0c0"/>
<rect x="867" y="669" width="1" height="12" fill="#c0c0c0"/>
<rect x="875" y="671" width="1" height="10" fill="#c0c0c0"/>
<rect x="883" y="671" width="1" height="10" fill="#c0c0c0"/>
<rect x="891" y="668" width="1" height="13" fill="#c0c0c0"/>
<rect x="899" y="668" width="1" height="13" fill="#c0c0c0"/>
<rect x="907" y="669" width="1" height="12" fill="#c0c0c0"/>
<rect x="915" y="669" width="1" height="12" fill="#c0c0c0"/>
<rect x="923" y="668" width="1" height="13" fill="#c0c0c0"/>
<rect x="931" y="667" width="1" height="14" fill="#c0c0c0"/>
<rect x="939" y="664" width="1" height="17" fill="#c0c0c0"/>
<rect x="947" y="664" width="1" height="17" fill="#c0c0c0"/>
<rect x="955" y="664" width="1" height="17" fill="#c0c0c0"/>
<rect x="963" y="664" width="1" height="17" fill="#c0c0c0"/>
<rect x="971" y="665" width="1" height="16" fill="#c0c0c0"/>
<rect x="979" y="666" width="1" height="15" fill="#c0c0c0"/>
<rect x="987" y="670" width="1" height="11" fill="#c0c0c0"/>
<rect x="995" y="671" width="1" height="10" fill="#c0c0c0"/>
<rect x="1003" y="670" width="1" height="11" fill="#c0c0c0"/>
<rect x="1011" y="668" width="1" height="13" fill="#c0c0c0"/>
<rect x="1019" y="668" width="1" height="13" fill="#c0c0c0"/>
<rect x="1027" y="662" width="1" height="19" fill="#c0c0c0"/>
<rect x="1035" y="651" width="1" height="30" fill="#c0c0c0"/>
<rect x="1043" y="650" width="1" height="31" fill="#c0c0c0"/>
<rect x="1051" y="662" width="1" height="19" fill="#c0c0c0"/>
<rect x="1059" y="672" width="1" height="9" fill="#c0c0c0"/>
<rect x="1067" y="680" width="1" height="1" fill="#c0c0c0"/>
<rect x="1075" y="680" width="1" height="7" fill="#c0c0c0"/>
<rect x="1083" y="680" width="1" height="13" fill="#c0c0c0"/>
<rect x="1091" y="680" width="1" height="7" fill="#c0c0c0"/>
<rect x="1099" y="671" width="1" height="10" fill="#c0c0c0"/>
<rect x="1107" y="656" width="1" height="25" fill="#c0c0c0"/>
<rect x="1115" y="646" width="1" height="35" fill="#c0c0c0"/>
<rect x="1123" y="636" width="1" height="45" fill="#c0c0c0"/>
<rect x="1131" y="630" width="1" height="51" fill="#c0c0c0"/>
<rect x="1139" y="625" width="1" height="56" fill="#c0c0c0"/>
<rect x="1147" y="618" width="1" height="63" fill="#c0c0c0"/>
<rect x="1155" y="615" width="1" height="66" fill="#c0c0c0"/>
<rect x="1163" y="611" width="1" height="70" fill="#c0c0c0"/>
<rect x="1171" y="602" width="1" height="79" fill="#c0c0c0"/>
<rect x="1179" y="597" width="1" height="84" fill="#c0c0c0"/>
<rect x="1187" y="597" width="1" height="84" fill="#c0c0c0"/>
<rect x="1195" y="595" width="1" height="86" fill="#c0c0c0"/>
<rect x="1203" y="595" width="1" height="86" fill="#c0c0c0"/>
<rect x="1211" y="596" width="1" height="85" fill="#c0c0c0"/>
<rect x="1219" y="597" width="1" height="84" fill="#c0c0c0"/>
<rect x="1227" y="599" width="1" height="82" fill="#c0c0c0"/>
<rect x="1235" y="595" width="1" height="86" fill="#c0c0c0"/>
<rect x="1243" y="592" width="1" height="89" fill="#c0c0c0"/>
<rect x="1251" y="586" width="1" height="95" fill="#c0c0c0"/>
<rect x="1259" y="578" width="1" height="103" fill="#c0c0c0"/>
<rect x="1267" y="577" width="1" height="104" fill="#c0c0c0"/>
<rect x="1275" y="582" width="1" height="99" fill="#c0c0c0"/>
<rect x="1283" y="587" width="1" height="94" fill="#c0c0c0"/>
<rect x="1291" y="591" width="1" height="90" fill="#c0c0c0"/>
<rect x="1299" y="593" width="1" height="88" fill="#c0c0c0"/>
<rect x="1307" y="596" width="1" height="85" fill="#c0c0c0"/>
<rect x="1315" y="599" width="1" height="82" fill="#c0c0c0"/>
<rect x="1323" y="600" width="1" height="81" fill="#c0c0c0"/>
<rect x="1331" y="599" width="1" height="82" fill="#c0c0c0"/>
<rect x="1339" y="596" width="1" height="85" fill="#c0c0c0"/>
<rect x="1347" y="594" width="1" height="87" fill="#c0c0c0"/>
<rect x="1355" y="591" width="1" height="90" fill="#c0c0c0"/>
<rect x="1363" y="588" width="1" height="93" fill="#c0c0c0"/>
<rect x="1371" y="582" width="1" height="99" fill="#c0c0c0"/>
<rect x="1379" y="581" width="1" height="100" fill="#c0c0c0"/>
<rect x="1387" y="584" width="1" height="97" fill="#c0c0c0"/>
<rect x="1395" y="589" width="1" height="92" fill="#c0c0c0"/>
<rect x="1403" y="595" width="1" height="86" fill="#c0c0c0"/>
<rect x="1411" y="604" width="1" height="77" fill="#c0c0c0"/>
<rect x="1419" y="611" width="1" height="70" fill="#c0c0c0"/>
<rect x="1427" y="615" width="1" height="66" fill="#c0c0c0"/>
<rect x="1435" y="621" width="1" height="60" fill="#c0c0c0"/>
<rect x="1443" y="629" width="1" height="52" fill="#c0c0c0"/>
<rect x="1451" y="626" width="1" height="55" fill="#c0c0c0"/>
<rect x="1459" y="622" width="1" height="59" fill="#c0c0c0"/>
<rect x="1467" y="622" width="1" height="59" fill="#c0c0c0"/>
<rect x="1475" y="627" width="1" height="54" fill="#c0c0c0"/>
<rect x="1483" y="634" width="1" height="47" fill="#c0c0c0"/>
<rect x="1491" y="647" width="1" height="34" fill="#c0c0c0"/>
<rect x="1499" y="655" width="1" height="26" fill="#c0c0c0"/>
<rect x="1507" y="664" width="1" height="17" fill="#c0c0c0"/>
<rect x="1515" y="671" width="1" height="10" fill="#c0c0c0"/>
<rect x="1523" y="679" width="1" height="2" fill="#c0c0c0"/>
<rect x="1531" y="680" width="1" height="1" fill="#c0c0c0"/>
<rect x="1539" y="680" width="1" height="4" fill="#c0c0c0"/>
<rect x="1547" y="680" width="1" height="5" fill="#c0c0c0"/>
<rect x="1555" y="680" width="1" height="8" fill="#c0c0c0"/>
<rect x="1563" y="680" width="1" height="8" fill="#c0c0c0"/>
<rect x="1571" y="680" width="1" height="8" fill="#c0c0c0"/>
<rect x="1579" y="680" width="1" height="6" fill="#c0c0c0"/>
<rect x="1587" y="680" width="1" height="3" fill="#c0c0c0"/>
<rect x="1595" y="679" width="1" height="2" fill="#c0c0c0"/>
<rect x="1603" y="675" width="1" height="6" fill="#c0c0c0"/>
<rect x="1611" y="669" width="1" height="12" fill="#c0c0c0"/>
<rect x="1619" y="663" width="1" height="18" fill="#c0c0c0"/>
<rect x="1627" y="659" width="1" height="22" fill="#c0c0c0"/>
<rect x="1635" y="653" width="1" height="28" fill="#c0c0c0"/>
<rect x="1643" y="652" width="1" height="29" fill="#c0c0c0"/>
<rect x="1651" y="653" width="1" height="28" fill="#c0c0c0"/>
<rect x="1659" y="657" width="1" height="24" fill="#c0c0c0"/>
<rect x="1667" y="658" width="1" height="23" fill="#c0c0c0"/>
</g>
<rect x="2" y="567" width="1" height="160" fill="#000" shape-rendering="crispEdges"/>
<polyline points="3.5,667.6 11.5,671.8 19.5,675.9 27.5,677.7 35.5,679.0 43.5,679.0 51.5,679.0 59.5,676.8 67.5,673.5 75.5,670.1 83.5,665.9 91.5,661.6 99.5,657.0 107.5,652.8 115.5,649.1 123.5,645.3 131.5,642.0 139.5,639.5 147.5,637.6 155.5,637.3 163.5,638.0 171.5,639.7 179.5,641.9 187.5,644.8 195.5,648.2 203.5,651.8 211.5,655.6 219.5,659.3 227.5,662.7 235.5,666.1 243.5,668.9 251.5,671.1 259.5,673.1 267.5,674.8 275.5,675.9 283.5,676.6 291.5,677.1 299.5,676.8 307.5,674.1 315.5,670.9 323.5,667.0 331.5,662.4 339.5,657.2 347.5,652.3 355.5,647.9 363.5,643.9 371.5,640.5 379.5,639.5 387.5,639.3 395.5,639.5 403.5,640.0 411.5,642.0 419.5,643.6 427.5,645.0 435.5,646.2 443.5,647.7 451.5,648.9 459.5,649.3 467.5,649.4 475.5,649.4 483.5,648.1 491.5,646.9 499.5,645.6 507.5,644.5 515.5,642.6 523.5,640.4 531.5,638.1 539.5,635.6 547.5,633.5 555.5,631.4 563.5,629.2 571.5,627.1 579.5,624.7 587.5,623.0 595.5,621.8 603.5,620.7 611.5,620.0 619.5,619.1 627.5,618.9 635.5,620.4 643.5,623.1 651.5,627.1 659.5,631.8 667.5,636.7 675.5,642.7 683.5,649.4 691.5,657.1 699.5,665.0 707.5,671.7 715.5,677.9 723.5,683.3 731.5,688.6 739.5,694.1 747.5,699.0 755.5,702.2 763.5,703.7 771.5,703.7 779.5,702.4 787.5,699.8 795.5,696.5 803.5,692.2 811.5,686.9 819.5,681.8 827.5,677.8 835.5,674.1 843.5,670.7 851.5,668.4 859.5,667.1 867.5,666.5 875.5,666.2 883.5,666.3 891.5,666.1 899.5,666.1 907.5,666.6 915.5,667.9 923.5,668.7 931.5,669.0 939.5,668.4 947.5,667.7 955.5,666.9 963.5,666.4 971.5,666.1 979.5,665.8 987.5,665.9 995.5,666.3 1003.5,666.6 1011.5,667.0 1019.5,667.4 1027.5,667.2 1035.5,665.8 1043.5,664.1 1051.5,663.6 1059.5,663.8 1067.5,664.8 1075.5,666.7 1083.5,669.5 1091.5,671.6 1099.5,672.6 1107.5,673.1 1115.5,672.7 1123.5,669.8 1131.5,665.1 1139.5,659.0 1147.5,651.3 1155.5,642.7 1163.5,634.2 1171.5,626.5 1179.5,620.0 1187.5,614.5 1195.5,609.9 1203.5,606.0 1211.5,602.8 1219.5,600.4 1227.5,598.7 1235.5,596.9 1243.5,595.8 1251.5,594.5 1259.5,592.4 1267.5,590.5 1275.5,589.0 1283.5,588.1 1291.5,587.5 1299.5,586.8 1307.5,586.9 1315.5,587.6 1323.5,589.2 1331.5,591.5 1339.5,593.6 1347.5,594.9 1355.5,595.3 1363.5,594.9 1371.5,593.7 1379.5,592.1 1387.5,590.4 1395.5,589.2 1403.5,588.8 1411.5,589.6 1419.5,591.6 1427.5,594.2 1435.5,597.9 1443.5,603.1 1451.5,608.1 1459.5,612.3 1467.5,616.0 1475.5,619.6 1483.5,623.0 1491.5,627.0 1499.5,631.4 1507.5,636.2 1515.5,640.9 1523.5,646.8 1531.5,653.3 1539.5,660.1 1547.5,666.5 1555.5,672.5 1563.5,677.1 1571.5,680.8 1579.5,683.3 1587.5,684.6 1595.5,684.6 1603.5,684.0 1611.5,682.4 1619.5,679.9 1627.5,676.7 1635.5,672.8 1643.5,668.8 1651.5,665.1 1659.5,662.2 1667.5,659.8" fill="none" stroke="#ff0000" stroke-width="1" stroke-dasharray="3 3" shape-rendering="crispEdges"/>
<g id="rsi">
<g shape-rendering="crispEdges">
<line x1="4" y1="773.5" x2="1688" y2="773.5" stroke="#c0c0c0" stroke-width="1" stroke-dasharray="3 3"/>
<line x1="4" y1="830.5" x2="1688" y2="830.5" stroke="#c0c0c0" stroke-width="1" stroke-dasharray="3 3"/>
</g>
<polyline points="3.5,809.2 11.5,795.8 19.5,792.8 27.5,799.8 35.5,794.1 43.5,790.8 51.5,798.9 59.5,794.1 67.5,788.0 75.5,789.0 83.5,779.8 91.5,778.8 99.5,784.8 107.5,788.0 115.5,788.0 123.5,785.7 131.5,788.0 139.5,788.0 147.5,789.7 155.5,797.0 163.5,794.8 171.5,798.9 179.5,802.2 187.5,807.1 195.5,804.8 203.5,805.9 211.5,800.7 219.5,800.7 227.5,803.6 235.5,808.8 243.5,797.5 251.5,795.5 259.5,810.1 267.5,805.4 275.5,799.3 283.5,795.5 291.5,799.8 299.5,786.0 307.5,765.9 315.5,784.8 323.5,781.9 331.5,786.8 339.5,784.0 347.5,792.8 355.5,791.8 363.5,794.9 371.5,794.9 379.5,793.7 387.5,790.6 395.5,784.8 403.5,785.7 411.5,808.8 419.5,794.1 427.5,794.1 435.5,797.0 443.5,800.5 451.5,794.9 459.5,784.8 467.5,785.7 475.5,786.8 483.5,786.8 491.5,788.0 499.5,785.7 507.5,794.9 515.5,786.2 523.5,783.1 531.5,777.5 539.5,774.4 547.5,786.8 555.5,782.8 563.5,781.5 571.5,781.5 579.5,783.1 587.5,785.7 595.5,784.8 603.5,771.8 611.5,776.3 619.5,775.8 627.5,792.3 635.5,807.6 643.5,808.0 651.5,814.1 659.5,812.8 667.5,802.8 675.5,804.8 683.5,806.6 691.5,817.9 699.5,810.6 707.5,812.0 715.5,817.9 723.5,819.3 731.5,825.0 739.5,821.9 747.5,808.8 755.5,794.1 763.5,795.8 771.5,793.7 779.5,789.7 787.5,791.5 795.5,799.8 803.5,798.9 811.5,793.2 819.5,799.8 827.5,795.8 835.5,791.5 843.5,786.8 851.5,798.4 859.5,805.7 867.5,804.2 875.5,802.8 883.5,798.9 891.5,795.8 899.5,797.0 907.5,800.7 915.5,798.9 923.5,795.8 931.5,794.6 939.5,790.6 947.5,795.8 955.5,795.8 963.5,793.7 971.5,796.7 979.5,796.7 987.5,806.8 995.5,802.2 1003.5,793.7 1011.5,793.7 1019.5,793.7 1027.5,780.7 1035.5,771.8 1043.5,789.7 1051.5,812.8 1059.5,814.9 1067.5,817.0 1075.5,812.8 1083.5,814.9 1091.5,795.5 1099.5,780.7 1107.5,779.8 1115.5,783.1 1123.5,779.8 1131.5,783.1 1139.5,781.9 1147.5,777.9 1155.5,781.0 1163.5,777.9 1171.5,771.8 1179.5,773.2 1187.5,779.8 1195.5,776.7 1203.5,777.9 1211.5,777.9 1219.5,776.7 1227.5,774.9 1235.5,769.7 1243.5,767.6 1251.5,762.8 1259.5,758.8 1267.5,768.8 1275.5,782.8 1283.5,782.8 1291.5,780.7 1299.5,778.8 1307.5,777.9 1315.5,777.9 1323.5,775.8 1331.5,769.7 1339.5,766.8 1347.5,765.7 1355.5,763.6 1363.5,761.5 1371.5,757.0 1379.5,768.0 1387.5,773.7 1395.5,775.8 1403.5,787.1 1411.5,791.8 1419.5,790.6 1427.5,784.0 1435.5,793.7 1443.5,797.5 1451.5,781.9 1459.5,778.9 1467.5,784.5 1475.5,794.6 1483.5,798.4 1491.5,810.6 1499.5,806.8 1507.5,809.7 1515.5,809.7 1523.5,814.1 1531.5,809.2 1539.5,806.8 1547.5,805.7 1555.5,809.7 1563.5,804.8 1571.5,805.7 1579.5,800.5 1587.5,796.3 1595.5,789.7 1603.5,791.8 1611.5,787.1 1619.5,784.0 1627.5,782.8 1635.5,779.8 1643.5,788.0 1651.5,794.6 1659.5,798.9 1667.5,796.7" fill="none" stroke="#1e90ff" stroke-width="1" shape-rendering="crispEdges"/>
</g>
<g id="axis" shape-rendering="crispEdges">
<rect x="1689" y="34" width="2" height="1" fill="#000"/>
<rect x="1689" y="67" width="2" height="1" fill="#000"/>
<rect x="1689" y="100" width="2" height="1" fill="#000"/>
<rect x="1689" y="133" width="2" height="1" fill="#000"/>
<rect x="1689" y="166" width="2" height="1" fill="#000"/>
<rect x="1689" y="199" width="2" height="1" fill="#000"/>
<rect x="1689" y="232" width="2" height="1" fill="#000"/>
<rect x="1689" y="265" width="2" height="1" fill="#000"/>
<rect x="1689" y="298" width="2" height="1" fill="#000"/>
<rect x="1689" y="331" width="2" height="1" fill="#000"/>
<rect x="1689" y="364" width="2" height="1" fill="#000"/>
<rect x="1689" y="397" width="2" height="1" fill="#000"/>
<rect x="1689" y="430" width="2" height="1" fill="#000"/>
<rect x="1689" y="463" width="2" height="1" fill="#000"/>
<rect x="1689" y="496" width="2" height="1" fill="#000"/>
<rect x="1689" y="529" width="2" height="1" fill="#000"/>
<rect x="1689" y="562" width="2" height="1" fill="#000"/>
<rect x="1689" y="569" width="1" height="1" fill="#000"/>
<rect x="1689" y="680" width="1" height="1" fill="#000"/>
<rect x="1689" y="725" width="1" height="1" fill="#000"/>
<rect x="1689" y="730" width="1" height="1" fill="#000"/>
<rect x="1689" y="773" width="2" height="1" fill="#000"/>
<rect x="1689" y="830" width="2" height="1" fill="#000"/>
<rect x="1689" y="873" width="1" height="1" fill="#000"/>
<rect x="3" y="875" width="1" height="3" fill="#000"/>
<rect x="67" y="875" width="1" height="3" fill="#000"/>
<rect x="131" y="875" width="1" height="3" fill="#000"/>
<rect x="195" y="875" width="1" height="3" fill="#000"/>
<rect x="259" y="875" width="1" height="3" fill="#000"/>
<rect x="323" y="875" width="1" height="3" fill="#000"/>
<rect x="387" y="875" width="1" height="3" fill="#000"/>
<rect x="451" y="875" width="1" height="3" fill="#000"/>
<rect x="515" y="875" width="1" height="3" fill="#000"/>
<rect x="579" y="875" width="1" height="3" fill="#000"/>
<rect x="643" y="875" width="1" height="3" fill="#000"/>
<rect x="707" y="875" width="1" height="3" fill="#000"/>
<rect x="771" y="875" width="1" height="3" fill="#000"/>
<rect x="835" y="875" width="1" height="3" fill="#000"/>
<rect x="899" y="875" width="1" height="3" fill="#000"/>
<rect x="963" y="875" width="1" height="3" fill="#000"/>
<rect x="1027" y="875" width="1" height="3" fill="#000"/>
<rect x="1091" y="875" width="1" height="3" fill="#000"/>
<rect x="1155" y="875" width="1" height="3" fill="#000"/>
<rect x="1219" y="875" width="1" height="3" fill="#000"/>
<rect x="1283" y="875" width="1" height="3" fill="#000"/>
<rect x="1347" y="875" width="1" height="3" fill="#000"/>
<rect x="1411" y="875" width="1" height="3" fill="#000"/>
<rect x="1475" y="875" width="1" height="3" fill="#000"/>
<rect x="1539" y="875" width="1" height="3" fill="#000"/>
<rect x="1603" y="875" width="1" height="3" fill="#000"/>
<rect x="1667" y="875" width="1" height="3" fill="#000"/>
</g>
<g id="labels">
<text xml:space="preserve" transform="translate(1694,38) scale(0.8975,1)" font-size="10.2" fill="#000" stroke="#000" stroke-width="0.2">54.355</text>
<text xml:space="preserve" transform="translate(1694,71) scale(0.8975,1)" font-size="10.2" fill="#000" stroke="#000" stroke-width="0.2">53.710</text>
<text xml:space="preserve" transform="translate(1694,137) scale(0.8975,1)" font-size="10.2" fill="#000" stroke="#000" stroke-width="0.2">52.405</text>
<text xml:space="preserve" transform="translate(1694,170) scale(0.8975,1)" font-size="10.2" fill="#000" stroke="#000" stroke-width="0.2">51.760</text>
<text xml:space="preserve" transform="translate(1694,203) scale(0.8975,1)" font-size="10.2" fill="#000" stroke="#000" stroke-width="0.2">51.100</text>
<text xml:space="preserve" transform="translate(1694,236) scale(0.8975,1)" font-size="10.2" fill="#000" stroke="#000" stroke-width="0.2">50.455</text>
<text xml:space="preserve" transform="translate(1694,269) scale(0.8975,1)" font-size="10.2" fill="#000" stroke="#000" stroke-width="0.2">49.810</text>
<text xml:space="preserve" transform="translate(1694,302) scale(0.8975,1)" font-size="10.2" fill="#000" stroke="#000" stroke-width="0.2">49.150</text>
<text xml:space="preserve" transform="translate(1694,335) scale(0.8975,1)" font-size="10.2" fill="#000" stroke="#000" stroke-width="0.2">48.505</text>
<text xml:space="preserve" transform="translate(1694,368) scale(0.8975,1)" font-size="10.2" fill="#000" stroke="#000" stroke-width="0.2">47.845</text>
<text xml:space="preserve" transform="translate(1694,401) scale(0.8975,1)" font-size="10.2" fill="#000" stroke="#000" stroke-width="0.2">47.200</text>
<text xml:space="preserve" transform="translate(1694,434) scale(0.8975,1)" font-size="10.2" fill="#000" stroke="#000" stroke-width="0.2">46.555</text>
<text xml:space="preserve" transform="translate(1694,467) scale(0.8975,1)" font-size="10.2" fill="#000" stroke="#000" stroke-width="0.2">45.895</text>
<text xml:space="preserve" transform="translate(1694,500) scale(0.8975,1)" font-size="10.2" fill="#000" stroke="#000" stroke-width="0.2">45.250</text>
<text xml:space="preserve" transform="translate(1694,533) scale(0.8975,1)" font-size="10.2" fill="#000" stroke="#000" stroke-width="0.2">44.605</text>
<text xml:space="preserve" transform="translate(1694,566) scale(0.8975,1)" font-size="10.2" fill="#000" stroke="#000" stroke-width="0.2">43.945</text>
<rect x="1690" y="72" width="36" height="11" fill="#ff0000" shape-rendering="crispEdges"/>
<text xml:space="preserve" transform="translate(1694,81) scale(0.8975,1)" font-size="10.2" fill="#fff" stroke="#fff" stroke-width="0.2">53.500</text>
<rect x="1690" y="96" width="36" height="11" fill="#000000" shape-rendering="crispEdges"/>
<text xml:space="preserve" transform="translate(1694,105) scale(0.8975,1)" font-size="10.2" fill="#fff" stroke="#fff" stroke-width="0.2">53.030</text>
<rect x="1690" y="173" width="36" height="11" fill="#32cd32" shape-rendering="crispEdges"/>
<text xml:space="preserve" transform="translate(1694,182) scale(0.8975,1)" font-size="10.2" fill="#fff" stroke="#fff" stroke-width="0.2">51.500</text>
<rect x="1690" y="274" width="36" height="11" fill="#4169e1" shape-rendering="crispEdges"/>
<text xml:space="preserve" transform="translate(1694,283) scale(0.8975,1)" font-size="10.2" fill="#fff" stroke="#fff" stroke-width="0.2">49.500</text>
<rect x="1690" y="376" width="36" height="11" fill="#4169e1" shape-rendering="crispEdges"/>
<text xml:space="preserve" transform="translate(1694,385) scale(0.8975,1)" font-size="10.2" fill="#fff" stroke="#fff" stroke-width="0.2">47.500</text>
<text xml:space="preserve" transform="translate(1692,577.5) scale(0.8975,1)" font-size="10.2" fill="#000" stroke="#000" stroke-width="0.2">0.9025</text>
<text xml:space="preserve" transform="translate(1692,684) scale(0.9067,1)" font-size="10.2" fill="#000" stroke="#000" stroke-width="0.2">0.00</text>
<text xml:space="preserve" transform="translate(1692,723) scale(0.8961,1)" font-size="10.2" fill="#000" stroke="#000" stroke-width="0.2">-0.3688</text>
<text xml:space="preserve" transform="translate(1692,739) scale(0.8814,1)" font-size="10.2" fill="#000" stroke="#000" stroke-width="0.2">100</text>
<text xml:space="preserve" transform="translate(1692,777) scale(0.8814,1)" font-size="10.2" fill="#000" stroke="#000" stroke-width="0.2">70</text>
<text xml:space="preserve" transform="translate(1692,833.5) scale(0.8814,1)" font-size="10.2" fill="#000" stroke="#000" stroke-width="0.2">30</text>
<text xml:space="preserve" transform="translate(1692,871) scale(0.8814,1)" font-size="10.2" fill="#000" stroke="#000" stroke-width="0.2">0</text>
<text xml:space="preserve" transform="translate(2,887) scale(0.9201,1)" font-size="10.2" fill="#000" stroke="#000" stroke-width="0.2">2 Dec 2020</text>
<text xml:space="preserve" transform="translate(66,887) scale(0.9272,1)" font-size="10.2" fill="#000" stroke="#000" stroke-width="0.2">3 Dec 16:00</text>
<text xml:space="preserve" transform="translate(130,887) scale(0.9272,1)" font-size="10.2" fill="#000" stroke="#000" stroke-width="0.2">6 Dec 23:00</text>
<text xml:space="preserve" transform="translate(194,887) scale(0.9272,1)" font-size="10.2" fill="#000" stroke="#000" stroke-width="0.2">8 Dec 04:00</text>
<text xml:space="preserve" transform="translate(258,887) scale(0.9272,1)" font-size="10.2" fill="#000" stroke="#000" stroke-width="0.2">9 Dec 12:00</text>
<text xml:space="preserve" transform="translate(322,887) scale(0.9229,1)" font-size="10.2" fill="#000" stroke="#000" stroke-width="0.2">10 Dec 20:00</text>
<text xml:space="preserve" transform="translate(386,887) scale(0.9229,1)" font-size="10.2" fill="#000" stroke="#000" stroke-width="0.2">14 Dec 00:00</text>
<text xml:space="preserve" transform="translate(450,887) scale(0.9229,1)" font-size="10.2" fill="#000" stroke="#000" stroke-width="0.2">15 Dec 08:00</text>
<text xml:space="preserve" transform="translate(514,887) scale(0.9229,1)" font-size="10.2" fill="#000" stroke="#000" stroke-width="0.2">16 Dec 16:00</text>
<text xml:space="preserve" transform="translate(578,887) scale(0.9229,1)" font-size="10.2" fill="#000" stroke="#000" stroke-width="0.2">18 Dec 00:00</text>
<text xml:space="preserve" transform="translate(642,887) scale(0.9229,1)" font-size="10.2" fill="#000" stroke="#000" stroke-width="0.2">21 Dec 04:00</text>
<text xml:space="preserve" transform="translate(706,887) scale(0.9229,1)" font-size="10.2" fill="#000" stroke="#000" stroke-width="0.2">22 Dec 12:00</text>
<text xml:space="preserve" transform="translate(770,887) scale(0.9229,1)" font-size="10.2" fill="#000" stroke="#000" stroke-width="0.2">23 Dec 20:00</text>
<text xml:space="preserve" transform="translate(834,887) scale(0.9229,1)" font-size="10.2" fill="#000" stroke="#000" stroke-width="0.2">28 Dec 04:00</text>
<text xml:space="preserve" transform="translate(898,887) scale(0.9229,1)" font-size="10.2" fill="#000" stroke="#000" stroke-width="0.2">29 Dec 12:00</text>
<text xml:space="preserve" transform="translate(962,887) scale(0.9229,1)" font-size="10.2" fill="#000" stroke="#000" stroke-width="0.2">30 Dec 20:00</text>
<text xml:space="preserve" transform="translate(1026,887) scale(0.9004,1)" font-size="10.2" fill="#000" stroke="#000" stroke-width="0.2">4 Jan 00:00</text>
<text xml:space="preserve" transform="translate(1090,887) scale(0.9004,1)" font-size="10.2" fill="#000" stroke="#000" stroke-width="0.2">5 Jan 08:00</text>
<text xml:space="preserve" transform="translate(1154,887) scale(0.9004,1)" font-size="10.2" fill="#000" stroke="#000" stroke-width="0.2">6 Jan 16:00</text>
<text xml:space="preserve" transform="translate(1218,887) scale(0.9004,1)" font-size="10.2" fill="#000" stroke="#000" stroke-width="0.2">8 Jan 00:00</text>
<text xml:space="preserve" transform="translate(1282,887) scale(0.8986,1)" font-size="10.2" fill="#000" stroke="#000" stroke-width="0.2">11 Jan 04:00</text>
<text xml:space="preserve" transform="translate(1346,887) scale(0.8986,1)" font-size="10.2" fill="#000" stroke="#000" stroke-width="0.2">12 Jan 12:00</text>
<text xml:space="preserve" transform="translate(1410,887) scale(0.8986,1)" font-size="10.2" fill="#000" stroke="#000" stroke-width="0.2">13 Jan 20:00</text>
<text xml:space="preserve" transform="translate(1474,887) scale(0.8986,1)" font-size="10.2" fill="#000" stroke="#000" stroke-width="0.2">15 Jan 04:00</text>
<text xml:space="preserve" transform="translate(1538,887) scale(0.8986,1)" font-size="10.2" fill="#000" stroke="#000" stroke-width="0.2">18 Jan 08:00</text>
<text xml:space="preserve" transform="translate(1602,887) scale(0.8986,1)" font-size="10.2" fill="#000" stroke="#000" stroke-width="0.2">19 Jan 16:00</text>
<text xml:space="preserve" transform="translate(1666,887) scale(0.8986,1)" font-size="10.2" fill="#000" stroke="#000" stroke-width="0.2">21 Jan 00:00</text>
<text xml:space="preserve" transform="translate(18,43) scale(0.9367,1)" font-size="10.2" fill="#000" stroke="#000" stroke-width="0.2">USOil-,H4</text>
<text xml:space="preserve" transform="translate(67,43) scale(0.8975,1)" font-size="10.2" fill="#000" stroke="#000" stroke-width="0.2">52.940</text>
<text xml:space="preserve" transform="translate(98,43) scale(0.8975,1)" font-size="10.2" fill="#000" stroke="#000" stroke-width="0.2">53.050</text>
<text xml:space="preserve" transform="translate(129,43) scale(0.8975,1)" font-size="10.2" fill="#000" stroke="#000" stroke-width="0.2">52.900</text>
<text xml:space="preserve" transform="translate(160,43) scale(0.8975,1)" font-size="10.2" fill="#000" stroke="#000" stroke-width="0.2">53.030</text>
<path d="M6 37h7l-3.5 4z" fill="#000"/>
<text xml:space="preserve" transform="translate(7,580) scale(0.9250,1)" font-size="10.2" fill="#000" stroke="#000" stroke-width="0.2">MACD(12,26,9) 0.1832 0.1698</text>
<text xml:space="preserve" transform="translate(7,741) scale(0.9152,1)" font-size="10.2" fill="#000" stroke="#000" stroke-width="0.2">RSI(14) 53.8233</text>
</g>
<g id="anno">
<text x="1322" y="486.5" font-size="36" fill="#ed1c24" textLength="250" lengthAdjust="spacingAndGlyphs" style="font-family:'Liberation Sans','Noto Sans CJK SC',sans-serif">多空转折点51.5</text>
</g>
<g id="tb">
<g shape-rendering="crispEdges">
<rect x="1" y="8" width="1" height="1" fill="#505050"/>
<rect x="3" y="8" width="1" height="1" fill="#505050"/>
<rect x="5" y="8" width="1" height="1" fill="#505050"/>
<rect x="7" y="8" width="1" height="1" fill="#505050"/>
<rect x="9" y="8" width="1" height="1" fill="#505050"/>
<rect x="11" y="8" width="1" height="1" fill="#505050"/>
<rect x="1" y="11" width="1" height="1" fill="#505050"/>
<rect x="3" y="11" width="1" height="1" fill="#505050"/>
<rect x="5" y="11" width="1" height="1" fill="#505050"/>
<rect x="7" y="11" width="1" height="1" fill="#505050"/>
<rect x="9" y="11" width="1" height="1" fill="#505050"/>
<rect x="11" y="11" width="1" height="1" fill="#505050"/>
<rect x="1" y="15" width="1" height="1" fill="#505050"/>
<rect x="3" y="15" width="1" height="1" fill="#505050"/>
<rect x="5" y="15" width="1" height="1" fill="#505050"/>
<rect x="7" y="15" width="1" height="1" fill="#505050"/>
<rect x="9" y="15" width="1" height="1" fill="#505050"/>
<rect x="11" y="15" width="1" height="1" fill="#505050"/>
<rect x="1" y="19" width="1" height="1" fill="#505050"/>
<rect x="3" y="19" width="1" height="1" fill="#505050"/>
<rect x="5" y="19" width="1" height="1" fill="#505050"/>
<rect x="7" y="19" width="1" height="1" fill="#505050"/>
</g>
<path d="M9.6 24V19.6H12.9M9.6 21.7H12.4" fill="none" stroke="#404040" stroke-width="1.4"/>
<path d="M30.7 20L33.3 11.4H34.1L36.7 20M31.9 16.9H35.5" fill="none" stroke="#505050" stroke-width="1.45" stroke-linejoin="round"/>
<g shape-rendering="crispEdges">
<rect x="56" y="9" width="1" height="1" fill="#505050"/>
<rect x="56" y="21" width="1" height="1" fill="#505050"/>
<rect x="58" y="9" width="1" height="1" fill="#505050"/>
<rect x="58" y="21" width="1" height="1" fill="#505050"/>
<rect x="61" y="9" width="1" height="1" fill="#505050"/>
<rect x="61" y="21" width="1" height="1" fill="#505050"/>
<rect x="63" y="9" width="1" height="1" fill="#505050"/>
<rect x="63" y="21" width="1" height="1" fill="#505050"/>
<rect x="65" y="9" width="1" height="1" fill="#505050"/>
<rect x="65" y="21" width="1" height="1" fill="#505050"/>
<rect x="67" y="9" width="1" height="1" fill="#505050"/>
<rect x="67" y="21" width="1" height="1" fill="#505050"/>
<rect x="56" y="9" width="1" height="1" fill="#505050"/>
<rect x="67" y="9" width="1" height="1" fill="#505050"/>
<rect x="56" y="11" width="1" height="1" fill="#505050"/>
<rect x="67" y="11" width="1" height="1" fill="#505050"/>
<rect x="56" y="13" width="1" height="1" fill="#505050"/>
<rect x="67" y="13" width="1" height="1" fill="#505050"/>
<rect x="56" y="15" width="1" height="1" fill="#505050"/>
<rect x="67" y="15" width="1" height="1" fill="#505050"/>
<rect x="56" y="17" width="1" height="1" fill="#505050"/>
<rect x="67" y="17" width="1" height="1" fill="#505050"/>
<rect x="56" y="19" width="1" height="1" fill="#505050"/>
<rect x="67" y="19" width="1" height="1" fill="#505050"/>
<rect x="56" y="21" width="1" height="1" fill="#505050"/>
<rect x="67" y="21" width="1" height="1" fill="#505050"/>
<rect x="55" y="8" width="2" height="1" fill="#505050"/>
</g>
<path d="M58 12.6H66M62 12.6V19.8" fill="none" stroke="#505050" stroke-width="1.5"/>
<path d="M86.4 8.8L90 12.7H88.1V13.8H84.7V12.7H82.8Z" fill="#505050"/>
<path d="M93.5 22.2L97.1 18.4H95.2V17.2H91.8V18.4H89.9Z" fill="#505050"/>
<path d="M85 16.4L87.5 18.8L91.9 13.2" fill="none" stroke="#484848" stroke-width="1.4"/>
<path d="M103.6 14H109.2L106.4 17.2Z" fill="#111"/>
<g shape-rendering="crispEdges">
<rect x="115" y="2" width="1" height="25" fill="#a0a0a0"/>
<rect x="116" y="2" width="1" height="25" fill="#ffffff"/>
<rect x="119" y="5" width="3" height="1" fill="#b0b0b0"/>
<rect x="119" y="7" width="3" height="1" fill="#b0b0b0"/>
<rect x="119" y="9" width="3" height="1" fill="#b0b0b0"/>
<rect x="119" y="11" width="3" height="1" fill="#b0b0b0"/>
<rect x="119" y="13" width="3" height="1" fill="#b0b0b0"/>
<rect x="119" y="15" width="3" height="1" fill="#b0b0b0"/>
<rect x="119" y="17" width="3" height="1" fill="#b0b0b0"/>
<rect x="119" y="19" width="3" height="1" fill="#b0b0b0"/>
<rect x="119" y="21" width="3" height="1" fill="#b0b0b0"/>
<rect x="119" y="23" width="3" height="1" fill="#b0b0b0"/>
<rect x="376" y="2" width="1" height="25" fill="#a0a0a0"/>
<rect x="377" y="2" width="1" height="25" fill="#ffffff"/>
<rect x="265" y="3" width="26" height="22" fill="#f8f8f8"/>
<rect x="265" y="3" width="26" height="1" fill="#a0a0a0"/>
<rect x="265" y="3" width="1" height="22" fill="#a0a0a0"/>
<rect x="290" y="3" width="1" height="22" fill="#ffffff"/>
<rect x="265" y="24" width="26" height="1" fill="#ffffff"/>
</g>
<g style="filter:grayscale(1)">
<text xml:space="preserve" transform="translate(130.5,19) scale(0.9175,1)" font-size="10.2" fill="#383838" stroke="#383838" stroke-width="0.05">M1</text>
<text xml:space="preserve" transform="translate(158.5,19) scale(0.9175,1)" font-size="10.2" fill="#383838" stroke="#383838" stroke-width="0.05">M5</text>
<text xml:space="preserve" transform="translate(184.0,19) scale(0.9072,1)" font-size="10.2" fill="#383838" stroke="#383838" stroke-width="0.05">M15</text>
<text xml:space="preserve" transform="translate(212.0,19) scale(0.9072,1)" font-size="10.2" fill="#383838" stroke="#383838" stroke-width="0.05">M30</text>
<text xml:space="preserve" transform="translate(243.0,19) scale(0.9203,1)" font-size="10.2" fill="#383838" stroke="#383838" stroke-width="0.05">H1</text>
<text xml:space="preserve" transform="translate(271.0,19) scale(0.9203,1)" font-size="10.2" fill="#383838" stroke="#383838" stroke-width="0.05">H4</text>
<text xml:space="preserve" transform="translate(299.0,19) scale(0.9203,1)" font-size="10.2" fill="#383838" stroke="#383838" stroke-width="0.05">D1</text>
<text xml:space="preserve" transform="translate(326.0,19) scale(0.9150,1)" font-size="10.2" fill="#383838" stroke="#383838" stroke-width="0.05">W1</text>
<text xml:space="preserve" transform="translate(353.5,19) scale(0.9456,1)" font-size="10.2" fill="#383838" stroke="#383838" stroke-width="0.05">MN</text>
</g>
</g>
</svg>
</body></html>
